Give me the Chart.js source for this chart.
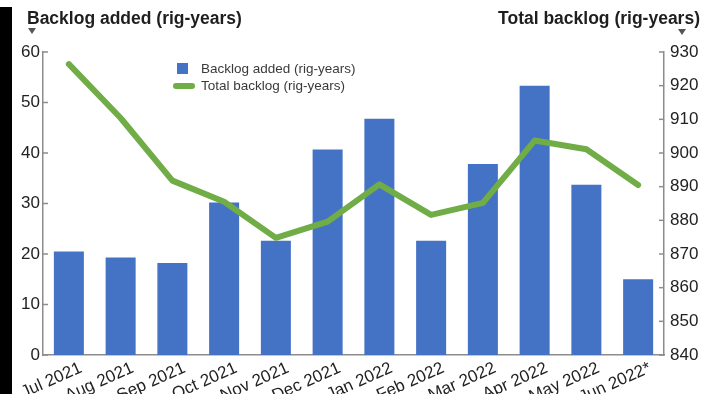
<!DOCTYPE html>
<html>
<head>
<meta charset="utf-8">
<script src="https://cdn.jsdelivr.net/npm/chart.js@4"></script>
<style>
  html, body { margin: 0; padding: 0; background: #fff; }
  body { width: 716px; height: 394px; position: relative; overflow: hidden; font-family: "Liberation Sans", Arial, Helvetica, sans-serif; }
  #wrap { position: absolute; left: 0; top: 0; width: 716px; height: 394px; }
  .bar-left { position: absolute; left: 0; top: 7px; width: 12px; bottom: 0; background: #000; }
  .titulo { position: absolute; top: 10px; font-size: 17.5px; font-weight: bold; line-height: 1; color: #1e1e1e; white-space: nowrap; }
  .flecha { position: absolute; width: 0; height: 0; border-left: 4.5px solid transparent; border-right: 4.5px solid transparent; border-top: 6px solid #555; }
  .leyenda { position: absolute; left: 172px; top: 60px; font-size: 13.5px; color: #3a3a3a; line-height: 17px; }
  .leyenda div { position: relative; padding-left: 29px; white-space: nowrap; }
  .cuadro { position: absolute; left: 5px; top: 3px; width: 11px; height: 11px; background: #4472c4; }
  .linea { position: absolute; left: 1px; top: 6px; width: 22px; height: 6px; border-radius: 3px; background: #70ad47; }
</style>
</head>
<body>
<div id="wrap"><canvas id="myChart" width="716" height="394"></canvas></div>
<div class="bar-left"></div>
<div class="titulo" style="left:27px">Backlog added (rig-years)</div>
<div class="titulo" style="right:16px">Total backlog (rig-years)</div>
<div class="flecha" style="left:28px; top:28px"></div>
<div class="flecha" style="left:678px; top:29px"></div>
<div class="leyenda">
  <div><span class="cuadro"></span>Backlog added (rig-years)</div>
  <div><span class="linea"></span>Total backlog (rig-years)</div>
</div>
<script>
// Meses del eje X
const meses = ["Jul 2021", "Aug 2021", "Sep 2021", "Oct 2021", "Nov 2021", "Dec 2021",
               "Jan 2022", "Feb 2022", "Mar 2022", "Apr 2022", "May 2022", "Jun 2022*"];
// Backlog agregado por mes (eje izquierdo)
const backlogAgregado = [20.5, 19.3, 18.2, 30.2, 22.6, 40.7, 46.8, 22.6, 37.8, 53.3, 33.7, 15.0];
// Backlog total (eje derecho)
const backlogTotal = [926.4, 910.4, 891.8, 885.5, 874.8, 879.6, 890.7, 881.6, 885.2, 903.7, 901.1, 890.5];
// Ticks de los ejes
const ticksIzq = [0, 10, 20, 30, 40, 50, 60];
const ticksDer = [840, 850, 860, 870, 880, 890, 900, 910, 920, 930];

const colorEje = "#8c8c8c";
const fuente = { family: "'Liberation Sans', Arial, Helvetica, sans-serif", size: 17 };

// Marcas cortas hacia dentro en ambos ejes verticales
const marcasInternas = {
    id: "marcasInternas",
    afterDraw(chart) {
        const ctx = chart.ctx;
        const area = chart.chartArea;
        ctx.save();
        ctx.strokeStyle = colorEje;
        ctx.lineWidth = 1.5;
        ticksIzq.forEach(v => {
            const y = chart.scales.y.getPixelForValue(v);
            ctx.beginPath();
            ctx.moveTo(area.left, y);
            ctx.lineTo(area.left + 5, y);
            ctx.stroke();
        });
        ticksDer.forEach(v => {
            const y = chart.scales.y1.getPixelForValue(v);
            ctx.beginPath();
            ctx.moveTo(area.right - 5, y);
            ctx.lineTo(area.right, y);
            ctx.stroke();
        });
        ctx.restore();
    }
};

const ctx = document.getElementById("myChart").getContext("2d");
const myChart = new Chart(ctx, {
    type: "bar",
    data: {
        labels: meses,
        datasets: [
            {
                type: "line",
                label: "Total backlog (rig-years)",
                data: backlogTotal,
                yAxisID: "y1",
                borderColor: "#70ad47",
                borderWidth: 6,
                borderCapStyle: "round",
                borderJoinStyle: "round",
                pointRadius: 0,
                tension: 0,
                order: 0,
            },
            {
                type: "bar",
                label: "Backlog added (rig-years)",
                data: backlogAgregado,
                yAxisID: "y",
                backgroundColor: "#4472c4",
                categoryPercentage: 1,
                barPercentage: 0.58,
                order: 1,
            },
        ],
    },
    options: {
        responsive: false,
        animation: false,
        layout: { padding: { top: 52, left: 0, right: 0, bottom: 0 } },
        plugins: {
            legend: { display: false },
            tooltip: { enabled: false },
        },
        scales: {
            x: {
                grid: { display: false, drawTicks: false },
                border: { display: true, color: colorEje, width: 1.5 },
                ticks: {
                    color: "#222",
                    font: fuente,
                    autoSkip: false,
                    minRotation: 24,
                    maxRotation: 24,
                    padding: 3,
                    labelOffset: 12,
                },
                afterFit(scale) { scale.height = 39; },
            },
            y: {
                position: "left",
                min: 0,
                max: 60,
                grid: { display: false, drawTicks: false },
                border: { display: true, color: colorEje, width: 1.5 },
                ticks: { stepSize: 10, color: "#222", font: fuente, padding: 3 },
                afterFit(scale) { scale.width = 43; },
            },
            y1: {
                position: "right",
                min: 840,
                max: 930,
                grid: { display: false, drawTicks: false },
                border: { display: true, color: colorEje, width: 1.5 },
                ticks: { stepSize: 10, color: "#222", font: fuente, padding: 6 },
                afterFit(scale) { scale.width = 52; },
            },
        },
    },
    plugins: [marcasInternas],
});
</script>
</body>
</html>
